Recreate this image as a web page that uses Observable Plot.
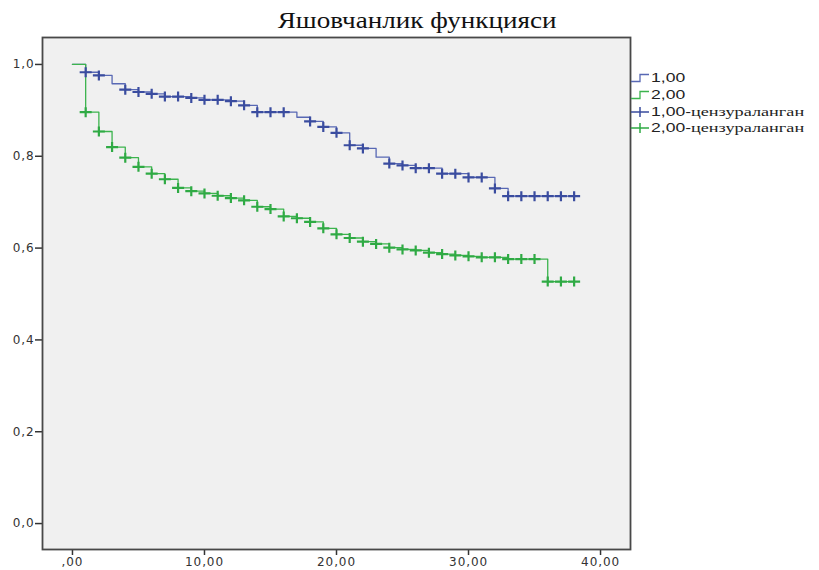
<!DOCTYPE html>
<html><head><meta charset="utf-8">
<script src="https://cdn.jsdelivr.net/npm/d3@7"></script>
<script src="https://cdn.jsdelivr.net/npm/@observablehq/plot@0.6"></script>
<style>
body{margin:0;background:#fff;}
#wrap{position:relative;width:819px;height:570px;font-family:"Liberation Sans",Arial,sans-serif;}
#chart{position:absolute;left:0;top:0;}
#title{position:absolute;top:8px;left:0;width:835px;text-align:center;}
#title span{display:inline-block;font-family:"Liberation Serif","Times New Roman",serif;font-size:23px;color:#111;transform:scaleX(1.18);transform-origin:center;}
#legend{position:absolute;left:631px;top:70px;font-size:13px;color:#222;}
.row{display:flex;align-items:center;height:16.7px;white-space:nowrap;}
.row svg{margin-right:1px;flex:none;}
.row .txt{display:inline-block;transform:scaleX(1.35);transform-origin:left center;}
.row .cyr{font-family:"Liberation Serif","Times New Roman",serif;font-size:13.5px;}
</style></head>
<body><div id="wrap"><div id="chart"></div><div id="title"><span>Яшовчанлик функцияси</span></div><div id="legend"></div></div>
<script>
const groupNames = ["1,00", "2,00"];
const censorSuffix = "цензураланган";
const lineColors = ["#5868b4", "#3cb44e"];
const markColors = ["#3a4c9f", "#2faa44"];

// group 1 step curve: times and survival after each drop
const g1Time = [0, 1, 2, 3, 4, 5, 6, 7, 9, 10, 12, 13, 14, 17, 18, 19, 20, 21, 22, 23, 24, 25, 26, 28, 30, 32, 33, 38];
const g1Surv = [1.0, 0.983, 0.976, 0.958, 0.945, 0.94, 0.936, 0.93, 0.927, 0.923, 0.92, 0.911, 0.896, 0.885, 0.876, 0.864, 0.851, 0.824, 0.817, 0.798, 0.784, 0.78, 0.774, 0.762, 0.754, 0.73, 0.713, 0.713];
const g1Censor = [1, 2, 4, 5, 6, 7, 8, 9, 10, 11, 12, 13, 14, 15, 16, 18, 19, 20, 21, 22, 24, 25, 26, 27, 28, 29, 30, 31, 32, 33, 34, 35, 36, 37, 38];

// group 2 step curve
const g2Time = [0, 1, 2, 3, 4, 5, 6, 7, 8, 9, 10, 11, 12, 13, 14, 15, 16, 17, 18, 19, 20, 21, 22, 23, 24, 25, 26, 27, 28, 29, 30, 31, 33, 36, 38];
const g2Surv = [1.0, 0.896, 0.854, 0.82, 0.797, 0.777, 0.762, 0.75, 0.731, 0.724, 0.719, 0.714, 0.709, 0.704, 0.69, 0.685, 0.669, 0.665, 0.657, 0.643, 0.63, 0.622, 0.614, 0.609, 0.601, 0.597, 0.595, 0.59, 0.587, 0.584, 0.582, 0.58, 0.576, 0.527, 0.527];
const g2Censor = [1, 2, 3, 4, 5, 6, 7, 8, 9, 10, 11, 12, 13, 14, 15, 16, 17, 18, 19, 20, 21, 22, 23, 24, 25, 26, 27, 28, 29, 30, 31, 32, 33, 34, 35, 36, 37, 38];

const xTicks = [0, 10, 20, 30, 40];
const xTickLabels = [",00", "10,00", "20,00", "30,00", "40,00"];
const yTicks = [0, 0.2, 0.4, 0.6, 0.8, 1.0];
const yTickLabels = ["0,0", "0,2", "0,4", "0,6", "0,8", "1,0"];

function curve(times, surv, g) { return times.map((t, i) => ({t, s: surv[i], g})); }
function censors(times, ctimes, surv, g) {
  return ctimes.map(c => {
    let s = surv[0];
    for (let i = 0; i < times.length; i++) if (times[i] <= c) s = surv[i];
    return {t: c, s, g};
  });
}
const lines = [...curve(g1Time, g1Surv, 0), ...curve(g2Time, g2Surv, 1)];
const marks = [...censors(g1Time, g1Censor, g1Surv, 0), ...censors(g2Time, g2Censor, g2Surv, 1)];

const plusSymbol = {
  draw(context, size) {
    const r = Math.sqrt(size / Math.PI);
    const rx = r * 1.2;
    context.moveTo(-rx, 0); context.lineTo(rx, 0);
    context.moveTo(0, -r); context.lineTo(0, r);
  }
};

const chart = Plot.plot({
  width: 819, height: 570,
  marginLeft: 42, marginRight: 189, marginTop: 37, marginBottom: 21,
  style: {fontFamily: "'DejaVu Sans', sans-serif", fontSize: "12px", letterSpacing: "0.9px", color: "#333", background: "transparent"},
  x: {domain: [-2.27, 42.27]},
  y: {domain: [-0.0565, 1.0587]},
  marks: [
    Plot.frame({fill: "#f0f0f0", stroke: null}),
    Plot.axisX({ticks: xTicks, tickFormat: d => xTickLabels[xTicks.indexOf(d)], tickSize: 6, tickPadding: 2, label: null, stroke: "#333", strokeWidth: 1.5, fill: "#333"}),
    Plot.axisY({ticks: yTicks, tickFormat: d => yTickLabels[yTicks.findIndex(v => Math.abs(v - d) < 1e-9)], tickSize: 7, tickPadding: 1, label: null, stroke: "#333", strokeWidth: 1.5, fill: "#333"}),
    Plot.line(lines, {x: "t", y: "s", z: "g", stroke: d => lineColors[d.g], curve: "step-after", strokeWidth: 1.3}),
    Plot.dot(marks, {x: "t", y: "s", symbol: plusSymbol, r: 5, fill: "none", stroke: d => markColors[d.g], strokeWidth: 2.2}),
    Plot.frame({stroke: "#484848", strokeWidth: 1.8})
  ]
});
document.getElementById("chart").appendChild(chart);

const legend = document.getElementById("legend");
const items = [
  {label: groupNames[0], suffix: "", color: lineColors[0], kind: "step"},
  {label: groupNames[1], suffix: "", color: lineColors[1], kind: "step"},
  {label: groupNames[0] + "-", suffix: censorSuffix, color: markColors[0], kind: "plus"},
  {label: groupNames[1] + "-", suffix: censorSuffix, color: markColors[1], kind: "plus"}
];
for (const it of items) {
  const row = document.createElement("div");
  row.className = "row";
  const path = it.kind === "step" ? "M0,10.5 H9 V3.5 H18" : "M0,7 H18 M9,2 V12";
  row.innerHTML = `<svg width="19" height="14"><path d="${path}" fill="none" stroke="${it.color}" stroke-width="${it.kind === "step" ? 1.3 : 1.5}"/></svg><span class="txt">${it.label}<span class="cyr">${it.suffix}</span></span>`;
  legend.appendChild(row);
}
</script>
</body></html>
